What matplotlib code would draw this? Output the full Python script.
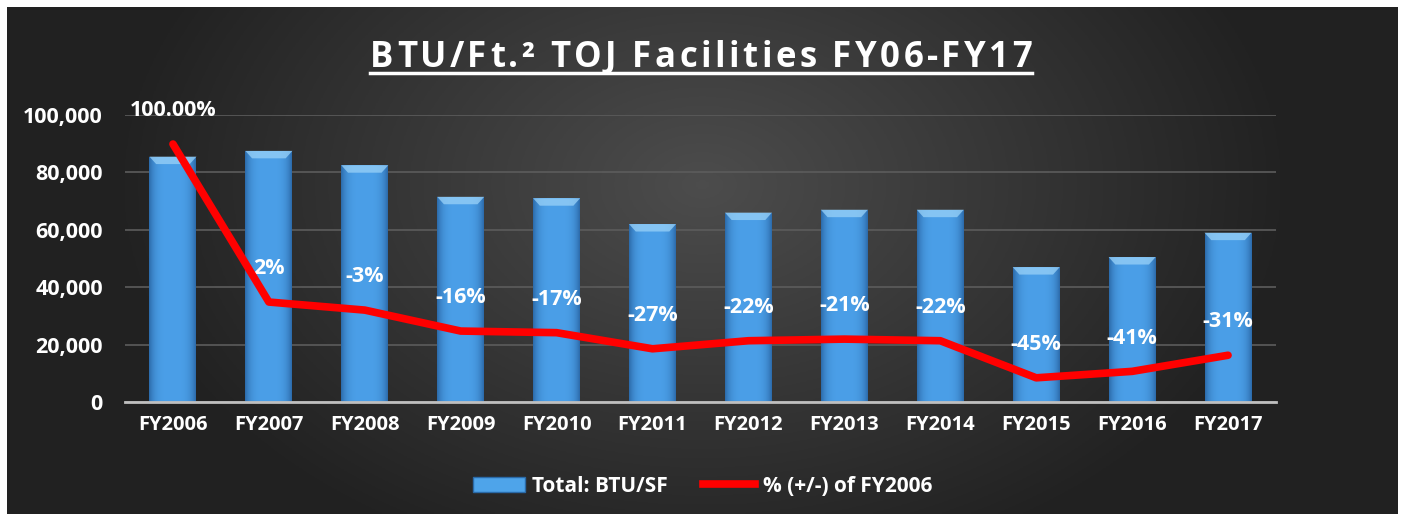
import numpy as np
import matplotlib.pyplot as plt
from matplotlib.lines import Line2D
from matplotlib.patches import Rectangle, Polygon

years = ['FY2006', 'FY2007', 'FY2008', 'FY2009', 'FY2010', 'FY2011',
         'FY2012', 'FY2013', 'FY2014', 'FY2015', 'FY2016', 'FY2017']
btu_per_sf = [85500, 87500, 82500, 71500, 71000, 62000,
              66000, 67000, 67000, 47000, 50500, 59000]
pct_change = [1.00, 0.02, -0.03, -0.16, -0.17, -0.27,
              -0.22, -0.21, -0.22, -0.45, -0.41, -0.31]
pct_labels = ['100.00%', '2%', '-3%', '-16%', '-17%', '-27%',
              '-22%', '-21%', '-22%', '-45%', '-41%', '-31%']
y_ticks = [0, 20000, 40000, 60000, 80000, 100000]
title_str = 'BTU/Ft.\u00b2 TOJ Facilities FY06-FY17'

FONT = 'Open Sans'
W, H = 1405, 521
fig = plt.figure(figsize=(W / 100, H / 100), dpi=100)
fig.patch.set_facecolor('white')

# dark panel with soft radial gradient
bg = fig.add_axes([7 / W, 7 / H, (1398 - 7) / W, (514 - 7) / H])
bg.set_axis_off()
gx, gy = np.meshgrid(np.linspace(-1, 1, 400), np.linspace(-1, 1, 200))
r = np.sqrt((gx / 0.8) ** 2 + ((gy + 0.3) / 1.5) ** 2)
shade = np.clip(0.30 - 0.16 * r, 0.13, 0.30)
bg.imshow(np.dstack([shade, shade, shade]), aspect='auto', extent=[0, 1, 0, 1])
bg.set_xlim(0, 1)
bg.set_ylim(0, 1)

ax = fig.add_axes([125 / W, 1 - 402 / H, (1276 - 125) / W, (402 - 115) / H])
ax.patch.set_alpha(0)
x = np.arange(len(years))
bars = ax.bar(x, btu_per_sf, width=0.49, color='#3d8fd9', zorder=2)

# horizontal gradient inside each bar (cylinder look) + lighter top bevel
grad = np.linspace(0, 1, 64)
prof = 1 - 0.8 * (2 * grad - 1) ** 4
lo = np.array([0x25, 0x5f, 0x9c]) / 255
hi = np.array([0x4b, 0x9f, 0xe8]) / 255
cols = lo[None, :] + (hi - lo)[None, :] * prof[:, None]
img = cols[None, :, :]
for b in bars:
    x0, w, h = b.get_x(), b.get_width(), b.get_height()
    im = ax.imshow(img, aspect='auto', extent=[x0, x0 + w, 0, h], zorder=3)
    im.set_clip_path(b)
    ax.add_patch(Polygon([(x0, h), (x0 + w, h), (x0 + w - 0.07, h - 2600),
                          (x0 + 0.07, h - 2600)],
                         closed=True, color='#9ad2f8', alpha=0.75, lw=0, zorder=4))

ax.set_xlim(-0.5, len(years) - 0.5)
ax.set_ylim(0, 100000)
ax.set_yticks(y_ticks)
ax.set_yticklabels(['{:,}'.format(v) for v in y_ticks])
ax.set_xticks(x)
ax.set_xticklabels(years)
for lab in ax.get_xticklabels() + ax.get_yticklabels():
    lab.set_color('white')
    lab.set_fontweight('bold')
    lab.set_fontfamily(FONT)
for lab in ax.get_yticklabels():
    lab.set_fontsize(15.5)
for lab in ax.get_xticklabels():
    lab.set_fontsize(14.5)
ax.tick_params(length=0, pad=9)
ax.tick_params(axis='y', pad=16)
ax.grid(axis='y', color='#5c5c5c', lw=1.2, zorder=0)
ax.set_axisbelow(True)
for s in ['top', 'right', 'left']:
    ax.spines[s].set_visible(False)
ax.spines['bottom'].set_color('#bfbfbf')
ax.spines['bottom'].set_linewidth(2)
ax.spines['bottom'].set_zorder(5)

ax2 = ax.twinx()
ax2.set_ylim(-0.6, 1.18)
ax2.set_axis_off()
ax2.plot(x, pct_change, color='#ff0000', lw=5.5, solid_capstyle='round', zorder=5)
for xi, yi, t in zip(x, pct_change, pct_labels):
    ax2.annotate(t, (xi, yi), xytext=(0, 24), textcoords='offset points',
                 ha='center', va='center', color='white', fontsize=15.5,
                 fontweight='bold', fontfamily=FONT)

# title: letter-spaced, underlined
tprops = dict(color='white', fontsize=25, fontweight='bold', fontfamily=FONT)
renderer = fig.canvas.get_renderer()


def text_w(s):
    t = fig.text(0, 0, s, **tprops)
    w = t.get_window_extent(renderer).width
    t.remove()
    return w


bar_w = text_w('|')
offsets = [text_w(title_str[:i] + '|') - bar_w for i in range(len(title_str))]
natural = text_w(title_str)
track = (662 - natural) / (len(title_str) - 1)
total = natural + track * (len(title_str) - 1)
start = 701 - total / 2
ty = 1 - 67 / H
for i, ch in enumerate(title_str):
    if ch == ' ':
        continue
    fig.text((start + offsets[i] + track * i) / W, ty, ch, ha='left',
             va='baseline', **tprops)
fig.add_artist(Line2D([start / W, (start + total) / W], [1 - 73 / H, 1 - 73 / H],
                      color='white', lw=2.5, transform=fig.transFigure))

# legend
handles = [Rectangle((0, 0), 1, 1, facecolor='#4ea4ea', edgecolor='#2a6aa8'),
           Line2D([0], [0], color='#ff0000', lw=5.5)]
leg = fig.legend(handles, ['Total: BTU/SF', '% (+/-) of FY2006'],
                 loc='center', bbox_to_anchor=(0.5, 1 - 486 / H), ncol=2,
                 frameon=False, handlelength=2.5, handletextpad=0.35,
                 columnspacing=1.7,
                 prop={'family': FONT, 'weight': 'bold', 'size': 15})
for t in leg.get_texts():
    t.set_color('white')

fig.savefig('out.png', dpi=100, facecolor='white')
